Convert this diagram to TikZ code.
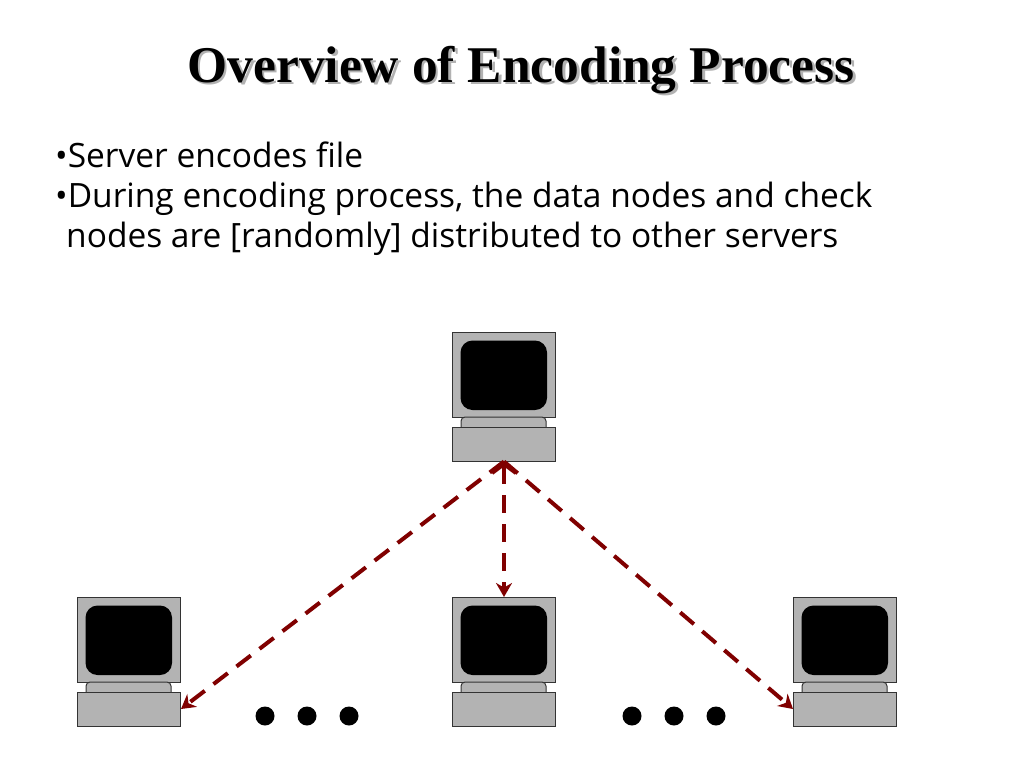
\documentclass[tikz,border=0pt]{standalone}
\usepackage{fontspec}
\setmainfont{Liberation Serif}
\newfontfamily\bodyfont{Open Sans}
\usetikzlibrary{arrows.meta}
\definecolor{pcgray}{HTML}{B3B3B3}
\definecolor{arrowred}{HTML}{800000}
\tikzset{
  x=1pt, y=-1pt,
  boxpart/.style={draw=black!80, line width=1pt, fill=pcgray, inner sep=0pt, anchor=north west},
  bodytext/.style={anchor=base west, inner sep=0pt, font=\bodyfont\fontsize{33.5}{40}\selectfont},
  titletext/.style={anchor=base, inner sep=0pt, font=\bfseries\fontsize{51.5}{60}\selectfont},
  link/.style={arrowred, line width=4pt, dash pattern=on 18pt off 11pt},
  dotmark/.style={circle, fill=black, inner sep=0pt, minimum size=19pt},
  pics/computer/.style={code={
    \node[boxpart, minimum width=103pt, minimum height=85pt] (-mon) at (0,0) {};
    \fill[black, rounded corners=12pt] (8.5,8.5) rectangle (95,78);
    \filldraw[draw=black!80, line width=1pt, fill=pcgray, rounded corners=4pt] (9,95) -- (9,85) -- (94,85) -- (94,95);
    \node[boxpart, minimum width=103pt, minimum height=34pt] (-base) at (0,94.5) {};
  }}
}
\begin{document}
\begin{tikzpicture}
\useasboundingbox (0,0) rectangle (1024,768);
\fill[white] (0,0) rectangle (1024,768);
% title with shadow
\node[titletext, text=black!30] (titleshadow) at (523.5,84.5) {Overview of Encoding Process};
\node[titletext] (title) at (521,82) {Overview of Encoding Process};
% bullets
\node[bodytext] (l1) at (55,167) {•Server encodes file};
\node[bodytext] (l2) at (55,207) {•During encoding process, the data nodes and check};
\node[bodytext] (l3) at (66,247) {nodes are [randomly] distributed to other servers};
% computers
\pic (top) at (452,332) {computer};
\pic (left) at (77,597) {computer};
\pic (mid) at (452,597) {computer};
\pic (right) at (793,597) {computer};
% connectors
\draw[link, -{Stealth[length=14pt,width=16pt]}] (top-base.south) -- (left-base.east);
\draw[link, -{Stealth[length=14pt,width=16pt]}] (top-base.south) -- (right-base.west);
\draw[link, {Straight Barb[length=9pt,width=24pt,line width=4pt]}-{Stealth[length=14pt,width=16pt]}] (top-base.south) -- (mid-mon.north);
% dots
\node[dotmark] (d1) at (265,716) {};
\node[dotmark] (d2) at (307,716) {};
\node[dotmark] (d3) at (349,716) {};
\node[dotmark] (d4) at (632,716) {};
\node[dotmark] (d5) at (674,716) {};
\node[dotmark] (d6) at (716,716) {};
\end{tikzpicture}
\end{document}
